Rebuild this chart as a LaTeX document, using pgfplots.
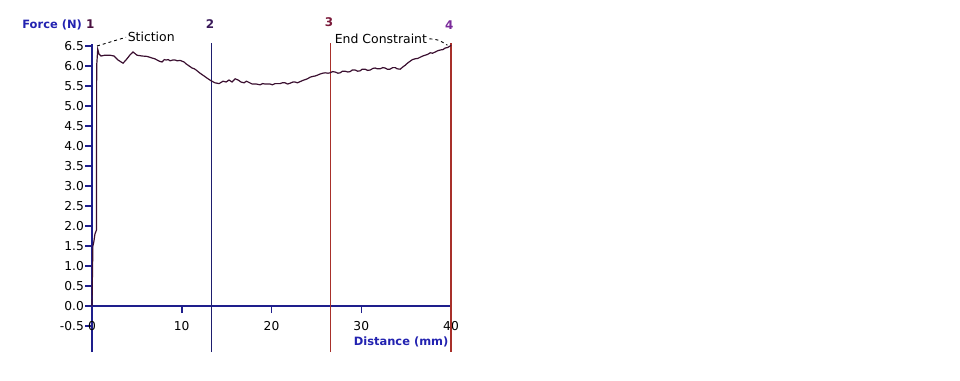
\documentclass[border=0pt]{standalone}
\usepackage{pgfplots}
\pgfplotsset{compat=1.18}
\usepackage{fontspec}
\setmainfont{DejaVu Sans}
\definecolor{axblue}{HTML}{1E1E8C}
\definecolor{lblblue}{HTML}{2222B0}
\definecolor{curve}{HTML}{3A0F30}
\definecolor{navyline}{HTML}{1E1E6E}
\definecolor{redline}{HTML}{A8302A}
\definecolor{num1}{HTML}{4A1040}
\definecolor{num2}{HTML}{3A1A5A}
\definecolor{num3}{HTML}{7A1A3A}
\definecolor{num4}{HTML}{7A2A9A}
\begin{document}
\begin{tikzpicture}[x=1bp,y=1bp]
\path (0,0) rectangle (960,380);
\begin{axis}[
  at={(92bp,28bp)}, anchor=south west,
  scale only axis, width=359bp, height=308bp,
  xmin=0, xmax=40, ymin=-1.15, ymax=6.55,
  axis x line=middle, axis y line=left,
  axis line style={-, axblue, line width=1.4pt},
  xtick={0,10,20,30,40},
  ytick={-0.5,0,0.5,1,1.5,2,2.5,3,3.5,4,4.5,5,5.5,6,6.5},
  hide obscured x ticks=false,
  hide obscured y ticks=false,
  tick align=outside,
  major tick length=7bp,
  every tick/.style={axblue, line width=1.5pt},
  xtick style={axblue, line width=1.5pt},
  ytick style={axblue, line width=1.5pt},
  yticklabel style={/pgf/number format/.cd, fixed, fixed zerofill, precision=1, /tikz/.cd, font=\fontsize{12.3}{13}\selectfont, inner sep=1bp},
  xticklabel style={font=\fontsize{12.3}{13}\selectfont, yshift=-5bp},
  /pgf/number format/assume math mode=true,
  clip=false,
]
% vertical markers
\addplot[navyline, line width=1.5pt] coordinates {(13.3,-1.15) (13.3,6.58)};
\addplot[redline, line width=1.2pt] coordinates {(26.6,-1.15) (26.6,6.58)};
\addplot[redline, line width=1.2pt] coordinates {(40,-1.15) (40,6.58)};
% force curve
\addplot[curve, line width=1.2pt] coordinates {
(0,0) (0.05,0.8) (0.1,1.5) (0.2,1.6) (0.33,1.8) (0.5,1.9) (0.52,6.0) (0.64,6.42)
(0.78,6.3) (1.0,6.25) (1.45,6.27) (2.0,6.27) (2.45,6.25) (2.9,6.15) (3.46,6.07)
(3.9,6.18) (4.24,6.28) (4.57,6.35) (5.02,6.27) (5.57,6.25) (6.13,6.24) (6.69,6.2)
(7.0,6.18) (7.25,6.15) (7.5,6.12) (7.8,6.1) (8.05,6.16) (8.25,6.15) (8.5,6.16) (8.7,6.13)
(9.0,6.15) (9.25,6.15) (9.5,6.13) (9.81,6.14) (10.26,6.1) (10.5,6.05) (10.7,6.02)
(11.15,5.95) (11.4,5.93) (11.6,5.9) (12.04,5.82) (12.49,5.75) (12.93,5.68) (13.27,5.63)
(13.7,5.58) (14.16,5.56) (14.6,5.62) (14.94,5.6) (15.27,5.65) (15.6,5.6) (15.94,5.68)
(16.28,5.65) (16.6,5.6) (16.95,5.58) (17.2,5.62) (17.4,5.6) (17.84,5.55) (18.28,5.55)
(18.73,5.53) (19.0,5.56) (19.29,5.55) (19.84,5.55) (20.1,5.53) (20.4,5.56) (20.96,5.56)
(21.2,5.58) (21.5,5.58) (21.8,5.55) (22.07,5.57) (22.4,5.6) (22.63,5.6) (22.9,5.58)
(23.19,5.61) (23.5,5.64) (23.75,5.66) (24.0,5.68) (24.3,5.72) (24.6,5.74) (24.86,5.75)
(25.1,5.77) (25.42,5.8) (25.7,5.82) (25.97,5.83) (26.3,5.82) (26.53,5.83) (26.8,5.86)
(27.09,5.85) (27.4,5.82) (27.65,5.83) (27.9,5.87) (28.2,5.87) (28.5,5.85) (28.76,5.86)
(29.0,5.9) (29.32,5.9) (29.6,5.87) (29.88,5.88) (30.1,5.92) (30.43,5.92) (30.7,5.89)
(31.0,5.9) (31.3,5.94) (31.55,5.95) (31.8,5.93) (32.1,5.93) (32.4,5.96) (32.66,5.95)
(32.9,5.92) (33.2,5.92) (33.5,5.96) (33.78,5.96) (34.0,5.93) (34.34,5.92) (34.6,5.97)
(34.9,6.02) (35.2,6.08) (35.45,6.12) (35.7,6.16) (36.0,6.18) (36.3,6.19) (36.57,6.22)
(36.85,6.25) (37.12,6.27) (37.4,6.29) (37.68,6.33) (37.95,6.32) (38.24,6.35) (38.5,6.38)
(38.8,6.4) (39.1,6.41) (39.35,6.45) (39.6,6.46) (39.9,6.5) (40,6.52)
};
% numbers
\node[num1, font=\fontsize{12}{13}\selectfont\bfseries] at (axis cs:-0.2,7.05) {1};
\node[num2, font=\fontsize{12}{13}\selectfont\bfseries] at (axis cs:13.15,7.05) {2};
\node[num3, font=\fontsize{12}{13}\selectfont\bfseries] at (axis cs:26.4,7.1) {3};
\node[num4, font=\fontsize{12}{13}\selectfont\bfseries] at (axis cs:39.8,7.02) {4};
% annotations
\draw[dashed, line width=0.9pt] (axis cs:0.56,6.5) -- (axis cs:3.8,6.72);
\node[anchor=west, inner sep=1bp, font=\fontsize{12.5}{13}\selectfont] at (axis cs:3.85,6.72) {Stiction};
\node[anchor=east, inner sep=1bp, font=\fontsize{12.5}{13}\selectfont] at (axis cs:37.46,6.68) {End Constraint};
\draw[dashed, line width=0.9pt] (axis cs:37.6,6.68) .. controls (axis cs:38.6,6.66) .. (axis cs:39.6,6.52);
% axis labels
\node[anchor=west, lblblue, font=\fontsize{11.5}{12}\selectfont\bfseries] at (axis cs:-8.15,7.03) {Force (N)};
\node[anchor=east, lblblue, font=\fontsize{11.5}{12}\selectfont\bfseries] at (axis cs:40.1,-0.9) {Distance (mm)};
\end{axis}
\end{tikzpicture}
\end{document}
